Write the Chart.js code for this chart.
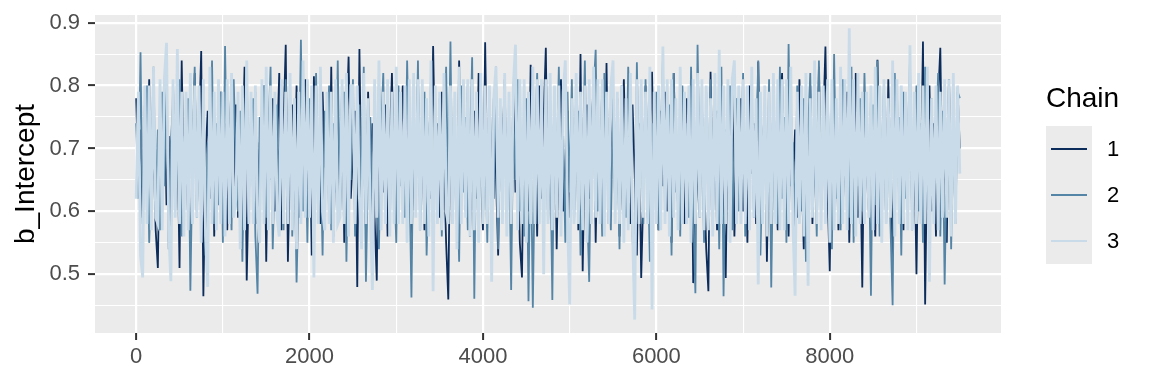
<!DOCTYPE html>
<html>
<head>
<meta charset="utf-8">
<script src="https://cdn.jsdelivr.net/npm/chart.js@4/dist/chart.umd.min.js"></script>
<style>
html,body{margin:0;padding:0;background:#ffffff;}
#wrap{position:relative;width:1152px;height:384px;font-family:"Liberation Sans",Arial,Helvetica,sans-serif;}
#c{position:absolute;left:0;top:0;}
#legTitle{position:absolute;left:1046px;top:83px;font-size:28px;line-height:30px;color:#000;}
#legKeys{position:absolute;left:1046px;top:126px;width:46px;height:138px;background:#ebebeb;}
.keyLine{position:absolute;left:5px;width:36px;height:2px;}
.keyLab{position:absolute;left:1107px;font-size:22px;line-height:24px;color:#000;}
</style>
</head>
<body>
<div id="wrap">
<canvas id="c" width="1152" height="384"></canvas>
<div id="legTitle">Chain</div>
<div id="legKeys"></div>
</div>
<script>
// ---- data (thinned: one value every 25 iterations) ----
const thin = 25;
const chainNames = ['1', '2', '3'];
const chainColors = ['#0c2d5c', '#5484a6', '#c9dbe8'];
const chainWidths = [1.8, 1.8, 2.8];
const xMajor = [0, 2000, 4000, 6000, 8000];
const xMinor = [1000, 3000, 5000, 7000, 9000];
const yMajor = [0.5, 0.6, 0.7, 0.8, 0.9];
const yMinor = [0.45, 0.55, 0.65, 0.75, 0.85];

const chain1 = [
0.78,0.64,0.73,0.59,0.77,0.66,0.81,0.62,0.70,0.57,0.51,0.75,0.68,0.79,0.61,0.72,0.55,0.80,0.65,0.74,
0.51,0.84,0.63,0.71,0.58,0.77,0.67,0.82,0.60,0.73,0.855,0.465,0.69,0.76,0.62,0.80,0.56,0.72,0.66,0.79,
0.61,0.74,0.57,0.70,0.81,0.64,0.77,0.59,0.72,0.68,0.83,0.49,0.66,0.75,0.62,0.79,0.58,0.71,0.67,0.80,
0.52,0.73,0.65,0.78,0.60,0.70,0.82,0.57,0.74,0.865,0.52,0.69,0.77,0.63,0.80,0.59,0.72,0.66,0.81,0.61,
0.75,0.53,0.815,0.64,0.71,0.58,0.79,0.67,0.74,0.60,0.83,0.56,0.70,0.77,0.63,0.80,0.55,0.73,0.846,0.62,
0.69,0.76,0.48,0.858,0.61,0.72,0.57,0.79,0.66,0.74,0.59,0.49,0.81,0.68,0.63,0.77,0.56,0.71,0.82,0.65,
0.58,0.75,0.70,0.80,0.61,0.67,0.78,0.54,0.73,0.64,0.81,0.60,0.72,0.57,0.76,0.69,0.62,0.863,0.66,0.74,
0.59,0.79,0.68,0.55,0.46,0.77,0.63,0.71,0.58,0.84,0.65,0.73,0.60,0.80,0.56,0.70,0.76,0.62,0.82,0.67,
0.57,0.869,0.64,0.72,0.59,0.78,0.66,0.53,0.75,0.69,0.81,0.61,0.74,0.58,0.79,0.63,0.71,0.55,0.495,0.77,
0.66,0.60,0.833,0.68,0.73,0.56,0.80,0.62,0.75,0.86,0.58,0.70,0.64,0.78,0.54,0.72,0.81,0.60,0.67,0.76,
0.59,0.74,0.63,0.79,0.57,0.85,0.505,0.71,0.77,0.62,0.68,0.82,0.55,0.73,0.65,0.80,0.60,0.836,0.58,0.70,
0.75,0.61,0.78,0.56,0.69,0.81,0.64,0.72,0.58,0.77,0.66,0.53,0.74,0.494,0.63,0.80,0.59,0.71,0.822,0.62,
0.68,0.57,0.76,0.64,0.79,0.60,0.73,0.55,0.82,0.67,0.61,0.75,0.70,0.58,0.78,0.63,0.80,0.486,0.72,0.65,
0.59,0.77,0.66,0.54,0.473,0.822,0.62,0.74,0.57,0.79,0.68,0.61,0.494,0.76,0.70,0.81,0.56,0.73,0.64,0.78,
0.60,0.71,0.55,0.80,0.66,0.74,0.58,0.838,0.63,0.69,0.77,0.52,0.72,0.61,0.79,0.65,0.57,0.75,0.82,0.62,
0.70,0.56,0.78,0.64,0.73,0.59,0.81,0.67,0.54,0.76,0.62,0.80,0.58,0.71,0.66,0.83,0.60,0.74,0.862,0.63,
0.505,0.77,0.65,0.72,0.57,0.80,0.61,0.69,0.79,0.55,0.74,0.63,0.82,0.59,0.71,0.479,0.76,0.67,0.60,0.78,
0.64,0.56,0.841,0.70,0.62,0.75,0.58,0.81,0.66,0.53,0.73,0.79,0.61,0.68,0.57,0.77,0.63,0.82,0.59,0.72,
0.50,0.76,0.65,0.87,0.452,0.71,0.80,0.60,0.74,0.56,0.78,0.86,0.62,0.69,0.55,0.81,0.66,0.73,0.58,0.79,
0.70
];

const chain2 = [
0.74,0.62,0.853,0.58,0.70,0.80,0.55,0.67,0.83,0.61,0.73,0.57,0.79,0.64,0.82,0.54,0.71,0.77,0.60,0.68,
0.81,0.56,0.72,0.65,0.78,0.474,0.69,0.83,0.59,0.75,0.62,0.80,0.53,0.71,0.66,0.84,0.58,0.74,0.61,0.79,
0.55,0.863,0.64,0.70,0.57,0.81,0.67,0.60,0.76,0.52,0.73,0.82,0.63,0.69,0.78,0.56,0.469,0.75,0.66,0.80,
0.59,0.72,0.83,0.54,0.68,0.77,0.61,0.74,0.57,0.81,0.65,0.79,0.56,0.70,0.487,0.64,0.873,0.60,0.73,0.55,
0.78,0.66,0.58,0.82,0.62,0.71,0.53,0.76,0.69,0.80,0.57,0.74,0.63,0.84,0.59,0.67,0.79,0.52,0.72,0.65,
0.81,0.56,0.70,0.77,0.60,0.83,0.488,0.68,0.75,0.58,0.79,0.63,0.54,0.73,0.82,0.61,0.69,0.57,0.78,0.66,
0.55,0.80,0.64,0.72,0.59,0.84,0.67,0.463,0.76,0.62,0.84,0.57,0.71,0.79,0.53,0.68,0.81,0.60,0.74,0.65,
0.78,0.56,0.70,0.83,0.61,0.87,0.58,0.73,0.66,0.52,0.80,0.63,0.75,0.57,0.69,0.845,0.461,0.77,0.64,0.82,
0.59,0.71,0.55,0.79,0.67,0.62,0.83,0.54,0.74,0.68,0.80,0.58,0.72,0.475,0.76,0.65,0.81,0.60,0.70,0.56,
0.78,0.457,0.73,0.447,0.69,0.82,0.61,0.75,0.57,0.80,0.64,0.71,0.459,0.77,0.66,0.83,0.59,0.72,0.55,0.79,
0.63,0.81,0.58,0.70,0.76,0.53,0.67,0.84,0.62,0.488,0.74,0.79,0.857,0.60,0.72,0.56,0.82,0.65,0.69,0.57,
0.78,0.61,0.73,0.54,0.80,0.66,0.59,0.83,0.70,0.56,0.475,0.837,0.64,0.76,0.58,0.81,0.68,0.52,0.74,0.62,
0.79,0.57,0.71,0.84,0.60,0.67,0.77,0.53,0.82,0.63,0.70,0.56,0.80,0.65,0.74,0.59,0.83,0.61,0.47,0.865,
0.66,0.72,0.55,0.79,0.62,0.81,0.58,0.69,0.76,0.54,0.83,0.465,0.73,0.64,0.80,0.57,0.71,0.78,0.60,0.67,
0.82,0.56,0.74,0.63,0.79,0.59,0.70,0.84,0.53,0.68,0.77,0.61,0.81,0.479,0.72,0.65,0.58,0.83,0.62,0.75,
0.55,0.866,0.64,0.71,0.57,0.80,0.67,0.60,0.78,0.52,0.73,0.82,0.61,0.69,0.56,0.84,0.63,0.76,0.59,0.79,
0.66,0.54,0.85,0.62,0.70,0.57,0.81,0.68,0.74,0.59,0.83,0.55,0.72,0.64,0.78,0.60,0.82,0.67,0.71,0.466,
0.77,0.61,0.84,0.56,0.69,0.80,0.63,0.73,0.58,0.451,0.82,0.65,0.75,0.53,0.79,0.62,0.71,0.84,0.57,0.68,
0.80,0.60,0.74,0.55,0.83,0.66,0.58,0.78,0.63,0.71,0.82,0.56,0.76,0.484,0.69,0.81,0.54,0.73,0.62,0.79,
0.78
];

const chain3 = [
0.62,0.79,0.53,0.495,0.80,0.58,0.80,0.57,0.83,0.59,0.58,0.81,0.57,0.81,0.868,0.57,0.489,0.81,0.59,0.858,
0.58,0.79,0.56,0.79,0.57,0.82,0.58,0.80,0.59,0.80,0.55,0.81,0.56,0.48,0.83,0.58,0.79,0.57,0.81,0.58,
0.79,0.56,0.81,0.58,0.82,0.59,0.62,0.79,0.54,0.80,0.57,0.84,0.58,0.79,0.58,0.80,0.59,0.55,0.81,0.58,
0.83,0.57,0.80,0.58,0.79,0.59,0.56,0.81,0.58,0.79,0.58,0.82,0.57,0.78,0.54,0.79,0.58,0.84,0.59,0.81,
0.59,0.80,0.495,0.80,0.58,0.83,0.60,0.57,0.79,0.58,0.79,0.55,0.81,0.58,0.59,0.81,0.58,0.82,0.56,0.80,
0.80,0.58,0.80,0.62,0.54,0.82,0.58,0.78,0.60,0.475,0.81,0.59,0.84,0.57,0.79,0.58,0.81,0.56,0.79,0.58,
0.83,0.58,0.79,0.58,0.80,0.55,0.81,0.58,0.82,0.59,0.81,0.57,0.81,0.58,0.78,0.56,0.84,0.473,0.80,0.58,
0.79,0.57,0.82,0.60,0.58,0.80,0.58,0.79,0.54,0.83,0.58,0.81,0.59,0.81,0.56,0.81,0.57,0.79,0.55,0.82,
0.58,0.80,0.58,0.80,0.488,0.78,0.83,0.59,0.78,0.58,0.82,0.56,0.79,0.58,0.80,0.865,0.57,0.81,0.58,0.81,
0.55,0.79,0.58,0.83,0.58,0.81,0.58,0.81,0.50,0.81,0.58,0.82,0.57,0.80,0.59,0.80,0.56,0.79,0.84,0.59,
0.452,0.78,0.58,0.82,0.58,0.79,0.57,0.80,0.55,0.81,0.58,0.83,0.59,0.81,0.58,0.81,0.56,0.79,0.58,0.80,
0.84,0.58,0.79,0.58,0.80,0.55,0.78,0.57,0.82,0.57,0.428,0.81,0.58,0.81,0.59,0.79,0.58,0.83,0.444,0.79,
0.58,0.80,0.57,0.862,0.58,0.81,0.56,0.81,0.59,0.78,0.57,0.83,0.58,0.79,0.58,0.80,0.55,0.81,0.58,0.82,
0.59,0.81,0.57,0.80,0.57,0.78,0.56,0.82,0.58,0.857,0.58,0.80,0.58,0.81,0.55,0.81,0.84,0.58,0.80,0.58,
0.81,0.58,0.80,0.57,0.83,0.59,0.78,0.484,0.79,0.58,0.80,0.56,0.79,0.58,0.82,0.58,0.81,0.57,0.81,0.57,
0.81,0.58,0.83,0.58,0.466,0.79,0.58,0.80,0.56,0.82,0.482,0.78,0.59,0.84,0.58,0.79,0.57,0.80,0.58,0.81,
0.55,0.81,0.57,0.78,0.58,0.83,0.58,0.81,0.57,0.891,0.58,0.81,0.56,0.82,0.58,0.79,0.58,0.79,0.59,0.80,
0.57,0.83,0.58,0.80,0.55,0.81,0.58,0.78,0.59,0.84,0.56,0.81,0.58,0.80,0.58,0.79,0.57,0.864,0.57,0.79,
0.58,0.82,0.58,0.80,0.58,0.83,0.488,0.78,0.58,0.80,0.57,0.79,0.59,0.81,0.59,0.81,0.56,0.82,0.58,0.80,
0.66
];

const chains = [chain1, chain2, chain3];

// ---- chart ----
const FONT = '"Liberation Sans", Arial, Helvetica, sans-serif';
const PANEL = '#ebebeb';

const panelBg = {
  id: 'panelBg',
  beforeDraw(chart) {
    const {ctx, chartArea: a} = chart;
    ctx.save();
    ctx.fillStyle = PANEL;
    ctx.fillRect(a.left, a.top, a.right - a.left, a.bottom - a.top);
    ctx.restore();
  }
};

// chain 1 drawn first, chain 3 last (on top), like ggplot
const datasets = chains.map((vals, k) => ({
  label: chainNames[k],
  data: vals.map((v, i) => ({x: i * thin, y: v})),
  borderColor: chainColors[k],
  borderWidth: chainWidths[k],
  pointRadius: 0,
  tension: 0,
  fill: false,
  order: chains.length - 1 - k
}));

const isMajor = (arr, v) => arr.some(m => Math.abs(m - v) < 1e-9);

new Chart(document.getElementById('c'), {
  type: 'line',
  data: {datasets},
  plugins: [panelBg],
  options: {
    responsive: false,
    animation: false,
    devicePixelRatio: 1,
    layout: {padding: {top: 15, right: 151, left: 0, bottom: 0}},
    plugins: {legend: {display: false}, tooltip: {enabled: false}},
    elements: {line: {borderJoinStyle: 'miter', borderCapStyle: 'butt'}},
    scales: {
      x: {
        type: 'linear',
        min: -475,
        max: 9975,
        afterBuildTicks: s => { s.ticks = xMajor.concat(xMinor).sort((a, b) => a - b).map(v => ({value: v})); },
        afterFit: s => { s.height = 51; s.paddingLeft = 0; s.paddingRight = 0; },
        border: {display: false},
        grid: {
          color: '#ffffff',
          lineWidth: c => (c.tick && isMajor(xMajor, c.tick.value)) ? 2.2 : 1.1,
          drawTicks: true,
          tickLength: 7,
          tickWidth: 2,
          tickColor: c => (c.tick && isMajor(xMajor, c.tick.value)) ? '#333333' : 'rgba(0,0,0,0)'
        },
        ticks: {
          autoSkip: false,
          maxRotation: 0,
          padding: 4,
          color: '#4d4d4d',
          font: {family: FONT, size: 22},
          callback: v => isMajor(xMajor, v) ? String(v) : ''
        }
      },
      y: {
        type: 'linear',
        min: 0.4067,
        max: 0.9122,
        afterBuildTicks: s => { s.ticks = yMajor.concat(yMinor).sort((a, b) => a - b).map(v => ({value: v})); },
        afterFit: s => { s.width = 95; s.paddingTop = 0; s.paddingBottom = 0; },
        border: {display: false},
        grid: {
          color: '#ffffff',
          lineWidth: c => (c.tick && isMajor(yMajor, c.tick.value)) ? 2.2 : 1.1,
          drawTicks: true,
          tickLength: 7,
          tickWidth: 2,
          tickColor: c => (c.tick && isMajor(yMajor, c.tick.value)) ? '#333333' : 'rgba(0,0,0,0)'
        },
        ticks: {
          autoSkip: false,
          padding: 8,
          color: '#4d4d4d',
          font: {family: FONT, size: 22},
          callback: v => isMajor(yMajor, v) ? v.toFixed(1) : ''
        },
        title: {
          display: true,
          text: 'b_Intercept',
          color: '#000000',
          font: {family: FONT, size: 28, lineHeight: 1},
          padding: {top: 12, bottom: 0}
        }
      }
    }
  }
});

// ---- legend (HTML text) ----
const keys = document.getElementById('legKeys');
const wrap = document.getElementById('wrap');
chainNames.forEach((name, k) => {
  const line = document.createElement('div');
  line.className = 'keyLine';
  line.style.top = (22 + 46 * k) + 'px';
  line.style.background = chainColors[k];
  keys.appendChild(line);
  const lab = document.createElement('div');
  lab.className = 'keyLab';
  lab.textContent = name;
  lab.style.top = (126 + 23 + 46 * k - 12) + 'px';
  wrap.appendChild(lab);
});
</script>
</body>
</html>
